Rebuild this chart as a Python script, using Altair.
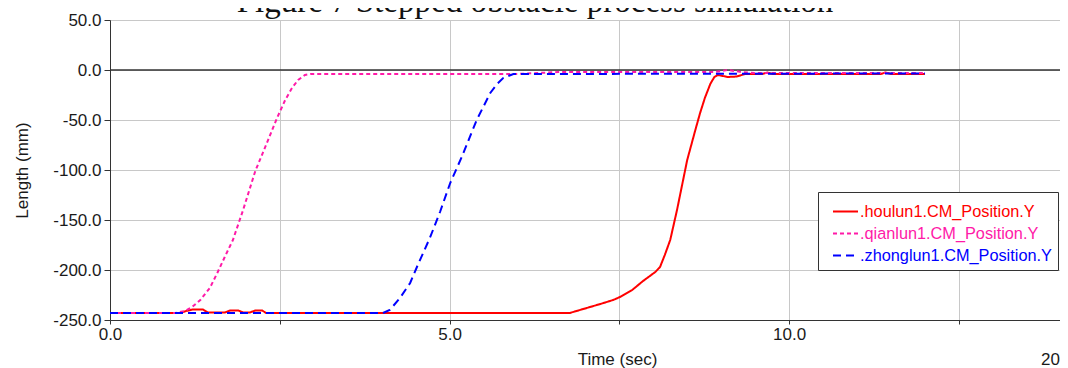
import altair as alt
import pandas as pd

# ---------------- data ----------------
title_text = "Figure 7  Stepped obstacle process simulation"
stamp_text = "20"
series_names = [".houlun1.CM_Position.Y", ".qianlun1.CM_Position.Y", ".zhonglun1.CM_Position.Y"]
series_colors = ["#ff0000", "#ff1aa8", "#0000ff"]
series_dashes = [[1, 0], [4, 3], [8, 5]]

houlun_t = [0.0, 1.03, 1.12, 1.22, 1.37, 1.44, 1.69, 1.77, 1.89, 1.96, 2.06, 2.14, 2.24, 2.30,
            6.77, 7.02, 7.22, 7.41, 7.51, 7.69, 7.85, 8.03, 8.10, 8.17, 8.25, 8.35, 8.50,
            8.62, 8.69, 8.76, 8.84, 8.90, 8.95, 9.10, 9.23, 9.35, 9.60, 9.68, 9.76, 11.35,
            11.42, 11.50, 12.0]
houlun_y = [-243, -243, -241, -239.5, -239.5, -242.5, -242.5, -240.5, -240.5, -242.5, -242.5,
            -240.5, -240.5, -243,
            -243, -238, -234, -230, -227, -220, -211, -202, -197, -185, -170, -140, -90,
            -60, -43, -28, -14, -7, -5, -7, -6.5, -4, -4, -2.5, -4, -4,
            -2.5, -4, -4]

qianlun_t = [0.0, 0.96, 1.10, 1.21, 1.33, 1.47, 1.58, 1.69, 1.81, 1.96, 2.14, 2.31, 2.46,
             2.58, 2.68, 2.77, 2.87, 2.95, 6.0, 6.6, 8.9, 9.1, 9.3, 9.5, 12.0]
qianlun_y = [-243, -243, -241, -237, -230, -218, -203, -187, -170, -140, -101, -73, -48,
             -30, -18, -10, -5, -4, -4, -2, -2, 0, -2, -3, -3]

zhonglun_t = [0.0, 4.02, 4.12, 4.27, 4.42, 4.52, 4.71, 4.86, 5.01, 5.18, 5.40, 5.60, 5.70,
              5.79, 5.94, 12.0]
zhonglun_y = [-243, -243, -240, -228, -213, -197, -168, -142, -113, -87, -50, -23, -14,
              -8, -4, -3.5]

x_ticks = [0, 2.5, 5, 7.5, 10, 12.5]
y_ticks = list(range(-250, 75, 25))
x_domain = [0, 13.99]
y_domain = [-250, 50]

# ---------------- tables ----------------
rows = []
for name, ts, ys in zip(series_names, [houlun_t, qianlun_t, zhonglun_t],
                        [houlun_y, qianlun_y, zhonglun_y]):
    for t, y in zip(ts, ys):
        rows.append({"series": name, "time": t, "length": y})
df = pd.DataFrame(rows)

FONT = "Liberation Sans"
TXT = "#1a1a1a"

x_enc = alt.X(
    "time:Q",
    scale=alt.Scale(domain=x_domain, nice=False, zero=False),
    axis=alt.Axis(
        values=x_ticks,
        labelExpr="datum.value % 5 == 0 ? format(datum.value, '.1f') : ''",
        title="Time (sec)",
        titleX=507, titleY=44, titleBaseline="alphabetic", titleAlign="center",
        titleFont=FONT, titleFontSize=17, titleFontWeight="normal", titleColor=TXT,
        labelFont=FONT, labelFontSize=17, labelColor=TXT, labelOverlap=False,
        labelPadding=2, tickSize=4, tickColor="#333333", domainColor="#333333",
        gridColor="#c8c8c8", gridWidth=1, labelFlush=False,
    ),
)
y_enc = alt.Y(
    "length:Q",
    scale=alt.Scale(domain=y_domain, nice=False, zero=False),
    axis=alt.Axis(
        values=y_ticks,
        labelExpr="datum.value % 50 == 0 ? (datum.value < 0 ? '-' : '') + format(abs(datum.value), '.1f') : ''",
        title="Length (mm)",
        titleX=-83, titleY=150, titleBaseline="alphabetic", titleAlign="center",
        titleFont=FONT, titleFontSize=17, titleFontWeight="normal", titleColor=TXT,
        labelFont=FONT, labelFontSize=17, labelColor=TXT, labelOverlap=False,
        labelPadding=3, tickSize=6, tickColor="#333333", domainColor="#333333",
        gridColor="#c8c8c8", gridWidth=1,
    ),
)

legend_kw = dict(
    title=None, orient="none", legendX=708, legendY=172,
    symbolType="stroke", symbolSize=625, symbolStrokeWidth=2, symbolOffset=8,
    labelFont=FONT, labelFontSize=16.3, labelOffset=1, labelLimit=400,
    labelColor={"expr": "scale('color', datum.value)"},
    rowPadding=-2, padding=6, strokeColor="#333333", fillColor="white",
    cornerRadius=0,
)

lines = alt.Chart(df).mark_line(strokeWidth=2, clip=True).encode(
    x=x_enc,
    y=y_enc,
    color=alt.Color(
        "series:N",
        scale=alt.Scale(domain=series_names, range=series_colors),
        legend=alt.Legend(**legend_kw),
    ),
    strokeDash=alt.StrokeDash(
        "series:N",
        scale=alt.Scale(domain=series_names, range=series_dashes),
        legend=alt.Legend(**legend_kw),
    ),
    order="time:Q",
)

zero_df = pd.DataFrame({"length": [0]})
zero_line = alt.Chart(zero_df).mark_rule(color="#333333", strokeWidth=1.5).encode(
    y=alt.Y("length:Q", scale=alt.Scale(domain=y_domain, nice=False, zero=False))
)

title_df = pd.DataFrame({"label": [title_text]})
title_mark = alt.Chart(title_df).mark_text(
    font="Liberation Serif", fontSize=33, color="#111111", baseline="alphabetic", align="center"
).encode(text="label:N", x=alt.value(425), y=alt.value(-8))

stamp_df = pd.DataFrame({"label": [stamp_text]})
stamp_mark = alt.Chart(stamp_df).mark_text(
    font=FONT, fontSize=17, color=TXT, baseline="alphabetic", align="left"
).encode(text="label:N", x=alt.value(931), y=alt.value(345))

chart = alt.layer(zero_line, lines, title_mark, stamp_mark).properties(
    width=950, height=300,
    autosize=alt.AutoSizeParams(type="none"),
    padding={"left": 102, "top": 12, "right": 0, "bottom": 48},
    background="white",
).configure_view(stroke=None)

chart.save("out.html", embed_options={"renderer": "svg", "actions": False})
